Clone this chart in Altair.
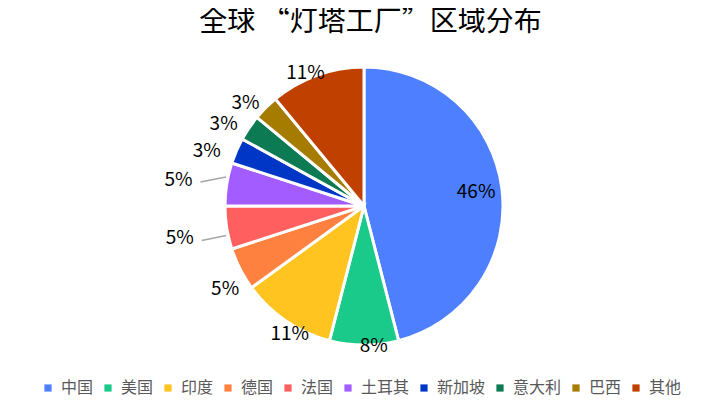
import altair as alt
import pandas as pd

categories = ["中国", "美国", "印度", "德国", "法国", "土耳其", "新加坡", "意大利", "巴西", "其他"]
values = [46, 8, 11, 5, 5, 5, 3, 3, 3, 11]
colors = ["#4D7FFF", "#19CA8A", "#FFC41F", "#FF8140", "#FF5F5F", "#A25CFF", "#0036C6", "#0C7A52", "#A67C00", "#C04000"]
leader_regions = ["法国", "土耳其"]

df = pd.DataFrame({"region": categories, "value": values, "idx": list(range(len(categories)))})
df["label"] = [f"{v}%" for v in values]
df["leader"] = [c in leader_regions for c in categories]

FONT = "Noto Sans CJK SC"
R = 139
CX, CY = 356, 153

color = alt.Color(
    "region:N",
    scale=alt.Scale(domain=categories, range=colors),
    sort=categories,
    legend=alt.Legend(
        title=None,
        orient="none",
        legendX=32,
        legendY=327,
        direction="horizontal",
        columns=10,
        symbolType="square",
        symbolSize=52,
        symbolStrokeWidth=0,
        labelFont=FONT,
        labelFontSize=16,
        labelColor="#595959",
        labelOffset=5,
        columnPadding=6,
        padding=0,
    ),
)

pie = alt.Chart(df).mark_arc(outerRadius=R, stroke="white", strokeWidth=3, x=CX, y=CY).encode(
    theta=alt.Theta("value:Q", stack=True),
    order=alt.Order("idx:Q"),
    color=color,
)

geo = (
    alt.Chart(df)
    .transform_window(cum="sum(value)", sort=[alt.SortField("idx", order="ascending")])
    .transform_joinaggregate(total="sum(value)")
    .transform_calculate(
        mid="(datum.cum - datum.value / 2) / datum.total * 2 * PI",
    )
    .transform_calculate(
        inside="datum.value > 20",
        ang="datum.value > 20 ? datum.mid : datum.mid - (datum.leader ? 1 : 4) * PI / 180",
    )
    .transform_calculate(
        r="datum.inside ? 113 : 140 + 30 * pow(sin(datum.ang), 2) + (datum.leader ? 18 : 0)",
    )
    .transform_calculate(
        tx=f"{CX} + datum.r * sin(datum.ang)",
        ty=f"{CY} - datum.r * cos(datum.ang)",
    )
)

labels = geo.mark_text(font=FONT, fontSize=19, color="#000000", baseline="middle", align="center").encode(
    x=alt.X("tx:Q", scale=None, axis=None),
    y=alt.Y("ty:Q", scale=None, axis=None),
    text="label:N",
)

leaders = (
    geo.transform_filter("datum.leader")
    .transform_calculate(
        lx="datum.tx + 22",
        ly="datum.ty + 2",
        ey="datum.ty - 3",
    )
    .transform_calculate(
        ex=f"{CX} - sqrt(pow({R + 2}, 2) - pow(datum.ey - {CY}, 2))",
    )
    .mark_rule(color="#A6A6A6", strokeWidth=1.5)
    .encode(
        x=alt.X("lx:Q", scale=None, axis=None),
        y=alt.Y("ly:Q", scale=None, axis=None),
        x2="ex:Q",
        y2="ey:Q",
    )
)

chart = (
    alt.layer(pie, leaders, labels)
    .properties(
        width=701,
        height=352,
        autosize=alt.AutoSizeParams(type="none"),
        padding={"top": 45, "left": 0, "right": 0, "bottom": 0},
        title=alt.TitleParams(
            "全球 “灯塔工厂”区域分布",
            font=FONT,
            fontSize=28,
            fontWeight="normal",
            color="#000000",
            anchor="middle",
            dx=12,
            offset=16,
        ),
    )
    .configure_view(stroke=None)
)

chart.save("out.html", embed_options={"renderer": "svg", "actions": False})
